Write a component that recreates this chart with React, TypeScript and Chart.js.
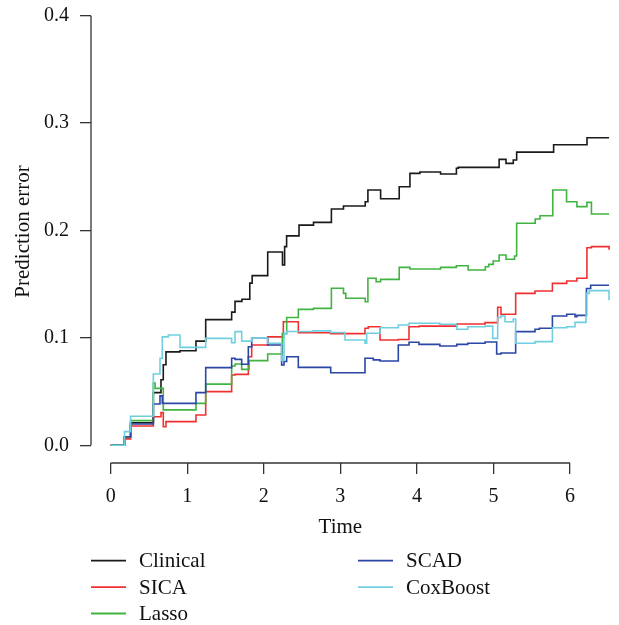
import React, { useEffect, useRef } from 'react';
import { Chart, registerables } from 'chart.js';

Chart.register(...registerables);

// ---- data ----
const seriesNames = ['Clinical', 'SICA', 'Lasso', 'SCAD', 'CoxBoost'];
const seriesColors = ['#1a1a1a', '#f03030', '#40b440', '#2a46a6', '#6fcfe0'];

const xTicks = [0, 1, 2, 3, 4, 5, 6];
const yTicks = [0, 0.1, 0.2, 0.3, 0.4];

const clinicalTime = [0, 0.18, 0.26, 0.557, 0.657, 0.687, 0.722, 0.905, 1.114, 1.241, 1.58, 1.624, 1.714, 1.817, 1.848, 2.051, 2.244, 2.272, 2.298, 2.46, 2.649, 2.883, 3.041, 3.325, 3.36, 3.526, 3.769, 3.909, 4.039, 4.309, 4.516, 4.539, 5.074, 5.164, 5.259, 5.303, 5.786, 6.222, 6.51];
const clinicalErr = [0, 0.008, 0.021, 0.049, 0.061, 0.075, 0.087, 0.088, 0.097, 0.117, 0.124, 0.134, 0.136, 0.151, 0.158, 0.180, 0.168, 0.185, 0.195, 0.205, 0.2076, 0.220, 0.2228, 0.2268, 0.2377, 0.2296, 0.2408, 0.2532, 0.2545, 0.2526, 0.2579, 0.2588, 0.2662, 0.2625, 0.2656, 0.273, 0.2798, 0.2863, 0.2863];

const sicaTime = [0, 0.18, 0.26, 0.557, 0.657, 0.687, 0.722, 1.114, 1.241, 1.58, 1.624, 1.798, 1.842, 2.051, 2.255, 2.451, 2.874, 3.322, 3.365, 3.518, 3.757, 3.897, 4.03, 4.52, 4.89, 5.055, 5.098, 5.29, 5.543, 5.77, 5.957, 6.09, 6.221, 6.28, 6.51];
const sicaErr = [0, 0.006, 0.018, 0.0266, 0.0304, 0.0173, 0.022, 0.0282, 0.050, 0.0655, 0.066, 0.0825, 0.0934, 0.101, 0.115, 0.1048, 0.104, 0.109, 0.1104, 0.098, 0.0985, 0.1104, 0.111, 0.1129, 0.1142, 0.1285, 0.122, 0.1415, 0.1437, 0.1508, 0.153, 0.1555, 0.184, 0.185, 0.182];

const lassoTime = [0, 0.18, 0.26, 0.557, 0.58, 0.687, 1.114, 1.241, 1.58, 1.624, 1.711, 1.807, 2.051, 2.242, 2.299, 2.451, 2.649, 2.883, 3.041, 3.071, 3.325, 3.36, 3.467, 3.526, 3.769, 3.909, 4.309, 4.516, 4.669, 4.894, 4.938, 4.997, 5.074, 5.164, 5.276, 5.303, 5.545, 5.608, 5.775, 5.955, 6.09, 6.221, 6.28, 6.51];
const lassoErr = [0, 0.008, 0.023, 0.058, 0.053, 0.033, 0.039, 0.057, 0.0738, 0.0757, 0.0707, 0.0788, 0.085, 0.104, 0.119, 0.1266, 0.1275, 0.1462, 0.1415, 0.1369, 0.1337, 0.1555, 0.1523, 0.1545, 0.1657, 0.1641, 0.1657, 0.1672, 0.1632, 0.1663, 0.1685, 0.1716, 0.1772, 0.1732, 0.1763, 0.2067, 0.2107, 0.2138, 0.2377, 0.2268, 0.2222, 0.2262, 0.2154, 0.2154];

const scadTime = [0, 0.18, 0.26, 0.557, 0.644, 0.674, 1.114, 1.241, 1.58, 1.624, 1.711, 1.798, 1.842, 2.051, 2.233, 2.264, 2.299, 2.451, 2.874, 3.322, 3.43, 3.518, 3.757, 3.897, 4.027, 4.30, 4.52, 4.664, 4.89, 5.042, 5.098, 5.29, 5.543, 5.6, 5.77, 5.957, 6.066, 6.09, 6.215, 6.27, 6.51];
const scadErr = [0, 0.008, 0.0198, 0.0385, 0.046, 0.039, 0.049, 0.0723, 0.081, 0.080, 0.0754, 0.0918, 0.1002, 0.0934, 0.0748, 0.078, 0.0825, 0.0726, 0.0676, 0.081, 0.0795, 0.0785, 0.0934, 0.0959, 0.094, 0.0925, 0.094, 0.095, 0.0962, 0.085, 0.086, 0.1058, 0.108, 0.109, 0.1204, 0.122, 0.1198, 0.121, 0.146, 0.149, 0.149];

const coxTime = [0, 0.18, 0.26, 0.557, 0.644, 0.674, 0.753, 0.905, 1.241, 1.58, 1.624, 1.711, 1.842, 2.051, 2.233, 2.264, 2.299, 2.647, 2.874, 3.061, 3.322, 3.344, 3.518, 3.757, 3.897, 4.30, 4.52, 4.664, 4.89, 4.99, 5.055, 5.098, 5.151, 5.259, 5.29, 5.543, 5.77, 5.957, 6.066, 6.209, 6.252, 6.51];
const coxErr = [0, 0.0127, 0.027, 0.0664, 0.081, 0.101, 0.1027, 0.0912, 0.0996, 0.0955, 0.1058, 0.097, 0.100, 0.095, 0.079, 0.104, 0.106, 0.1065, 0.105, 0.098, 0.095, 0.1043, 0.1095, 0.112, 0.1136, 0.1127, 0.108, 0.1104, 0.111, 0.0996, 0.119, 0.1204, 0.115, 0.1176, 0.095, 0.0965, 0.1095, 0.1104, 0.1145, 0.1415, 0.144, 0.135];

const seriesTimes = [clinicalTime, sicaTime, lassoTime, scadTime, coxTime];
const seriesErrs = [clinicalErr, sicaErr, lassoErr, scadErr, coxErr];

const FONT = '"Liberation Serif", "DejaVu Serif", serif';
const TEXT = '#111111';
const AXIS = '#333333';

const rStylePlugin = {
  id: 'rStyle',
  afterDraw(chart: any) {
    const { ctx, chartArea } = chart;
    const xs = chart.scales.x;
    const ys = chart.scales.y;
    ctx.save();
    ctx.strokeStyle = AXIS;
    ctx.lineWidth = 1.3;
    // axis lines spanning first..last tick
    const x0 = xs.getPixelForValue(xTicks[0]);
    const x1 = xs.getPixelForValue(xTicks[xTicks.length - 1]);
    const y0 = ys.getPixelForValue(yTicks[0]);
    const y1 = ys.getPixelForValue(yTicks[yTicks.length - 1]);
    ctx.beginPath();
    ctx.moveTo(x0, chartArea.bottom);
    ctx.lineTo(x1, chartArea.bottom);
    ctx.stroke();
    ctx.beginPath();
    ctx.moveTo(chartArea.left, y0);
    ctx.lineTo(chartArea.left, y1);
    ctx.stroke();

    // axis titles
    ctx.fillStyle = TEXT;
    ctx.font = `21px ${FONT}`;
    ctx.textAlign = 'center';
    ctx.textBaseline = 'alphabetic';
    ctx.fillText('Time', (x0 + x1) / 2, 533);
    ctx.save();
    ctx.translate(29, chartArea.top + (chartArea.bottom - chartArea.top) / 2);
    ctx.rotate(-Math.PI / 2);
    ctx.fillText('Prediction error', 0, 0);
    ctx.restore();

    // legend (two columns, column-major)
    const ds = chart.data.datasets;
    const colX = [91, 358];
    const rowY = [560.7, 587.2, 613.5];
    ctx.textAlign = 'left';
    ds.forEach((d: any, i: number) => {
      const col = i < 3 ? 0 : 1;
      const row = i < 3 ? i : i - 3;
      const lx = colX[col];
      const ly = rowY[row];
      ctx.strokeStyle = d.borderColor;
      ctx.lineWidth = 1.8;
      ctx.beginPath();
      ctx.moveTo(lx, ly);
      ctx.lineTo(lx + 35, ly);
      ctx.stroke();
      ctx.fillStyle = TEXT;
      ctx.fillText(d.label, lx + 48, ly + 6.5);
    });
    ctx.restore();
  },
};

export default function App() {
  const ref = useRef<HTMLCanvasElement | null>(null);

  useEffect(() => {
    if (!ref.current) return;
    const datasets = seriesNames.map((name, i) => ({
      label: name,
      data: seriesTimes[i].map((t, j) => ({ x: t, y: seriesErrs[i][j] })),
      borderColor: seriesColors[i],
      backgroundColor: seriesColors[i],
      borderWidth: 1.6,
      pointRadius: 0,
      fill: false,
      stepped: 'before' as const,
      order: seriesNames.length - i,
    }));

    const chart = new Chart(ref.current, {
      type: 'line',
      data: { datasets },
      plugins: [rStylePlugin],
      options: {
        animation: false,
        responsive: true,
        maintainAspectRatio: false,
        layout: { padding: 0 },
        plugins: {
          legend: { display: false },
          tooltip: { enabled: false },
          title: { display: false },
        },
        scales: {
          x: {
            type: 'linear',
            min: -0.2573,
            max: 6.64,
            afterBuildTicks: (s: any) => {
              s.ticks = xTicks.map((v) => ({ value: v }));
            },
            afterFit: (s: any) => {
              s.height = 162;
              s.paddingLeft = 0;
              s.paddingRight = 0;
            },
            border: { display: false },
            grid: {
              display: true,
              drawOnChartArea: false,
              drawTicks: true,
              tickLength: 11,
              color: AXIS,
              lineWidth: 1.3,
            },
            ticks: {
              autoSkip: false,
              maxRotation: 0,
              padding: 11,
              color: TEXT,
              font: { family: FONT, size: 20 },
              callback: (v: any) => String(v),
            },
          },
          y: {
            type: 'linear',
            min: -0.01648,
            max: 0.41462,
            afterBuildTicks: (s: any) => {
              s.ticks = yTicks.map((v) => ({ value: v }));
            },
            afterFit: (s: any) => {
              s.width = 91;
              s.paddingTop = 0;
              s.paddingBottom = 0;
            },
            border: { display: false },
            grid: {
              display: true,
              drawOnChartArea: false,
              drawTicks: true,
              tickLength: 11,
              color: AXIS,
              lineWidth: 1.3,
            },
            ticks: {
              autoSkip: false,
              padding: 11,
              color: TEXT,
              font: { family: FONT, size: 20 },
              callback: (v: any) => Number(v).toFixed(1),
            },
          },
        },
      },
    });
    return () => chart.destroy();
  }, []);

  return (
    <div style={{ position: 'fixed', left: 0, top: 0, width: 619, height: 625, background: '#ffffff' }}>
      <canvas ref={ref} />
    </div>
  );
}
